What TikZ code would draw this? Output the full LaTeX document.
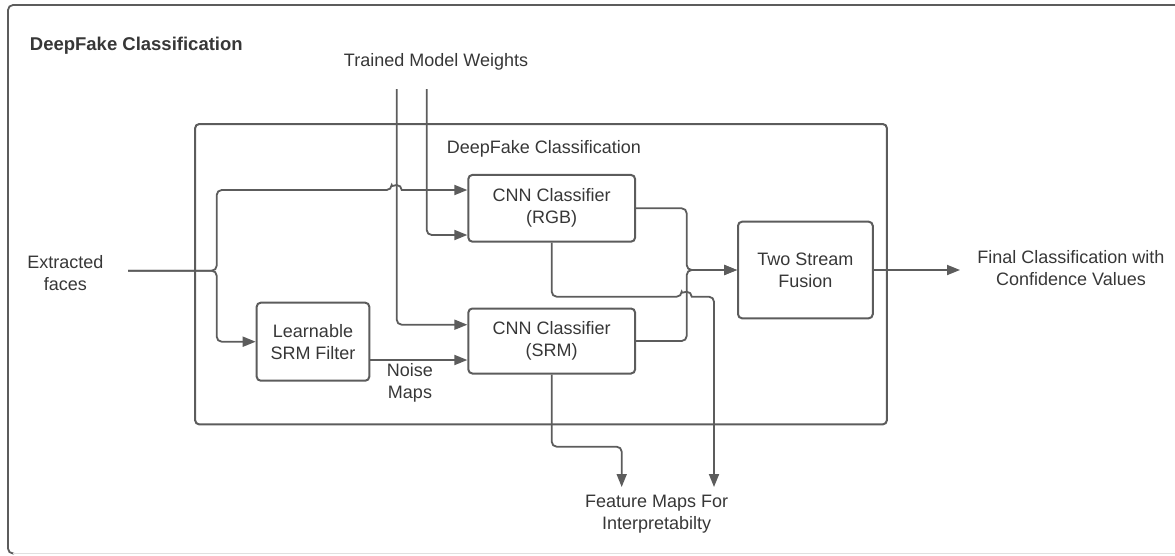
\documentclass[tikz,border=0pt]{standalone}
\usepackage{fontspec}
\setmainfont{Liberation Sans}
\usepackage{xcolor}
\usetikzlibrary{arrows.meta}
\definecolor{linegray}{RGB}{92,92,92}
\definecolor{txtgray}{RGB}{55,55,55}
\newcommand\lblfont{\fontsize{18}{22}\selectfont}

\begin{document}
\begin{tikzpicture}[x=1pt, y=-1pt, line width=1.8pt, color=linegray, text=txtgray, font=\lblfont]
    \tikzstyle{box}=[draw, rounded corners=4pt, line width=2pt, align=center, inner sep=0pt]
    \tikzstyle{txt}=[align=center, inner sep=0pt]
    \tikzstyle{conn}=[-{Triangle[length=13pt,width=10pt]}, rounded corners=5pt]
    \useasboundingbox (0,0) rectangle (1175,555);
    % frames
    \draw[rounded corners=5pt] (1190,5) -- (8,5) -- (8,553.5) -- (14,553.5);
    \draw[black!12, line width=1.5pt] (13,553.5) -- (1175,553.5);
    \node[box, minimum width=691.7pt, minimum height=300.3pt] (inner) at (541,274.2) {};
    % texts
    \node[txt, anchor=west, font=\fontsize{18.5}{22}\selectfont\bfseries] (title) at (29,46) {DeepFake Classification};
    \node[txt] (weights) at (436,62) {Trained Model Weights};
    \node[txt] (innerlabel) at (544,149) {DeepFake Classification};
    \node[txt] (faces) at (65.3,273) {Extracted\\faces};
    \node[txt] (noise) at (410,382.5) {Noise\\Maps};
    \node[txt] (final) at (1071,268) {Final Classification with\\Confidence Values};
    \node[txt] (features) at (656.7,514) {Feature Maps For\\Interpretabilty};
    % blocks
    \node[box, minimum width=166.7pt, minimum height=66.7pt] (rgb) at (551.7,208.3) {CNN Classifier\\(RGB)};
    \node[box, minimum width=166.7pt, minimum height=65pt] (srm) at (551.7,341) {CNN Classifier\\(SRM)};
    \node[box, minimum width=112.6pt, minimum height=78pt] (filter) at (313,341.7) {Learnable\\SRM Filter};
    \node[box, minimum width=134.7pt, minimum height=96.6pt] (fusion) at (805.4,270) {Two Stream\\Fusion};
    \coordinate (facesout) at (128,270.7);
    \coordinate (split) at (216.7,270.7);
    \coordinate (merge) at (686.7,270);
    \coordinate (w1) at (396.7,89);
    \coordinate (w2) at (426.7,89);
    \coordinate (finalin) at (960,270);
    \coordinate (fa) at (621.7,487);
    \coordinate (fb) at (714,487);
    % connectors
    \draw[conn] (facesout) -- (split) |- (391.7,190) [sharp corners] arc (180:360:5) [rounded corners=5pt] -- ([yshift=18.3pt]rgb.west);
    \draw[conn] (facesout) -- (split) |- (filter.west);
    \draw[conn] (w2) |- ([yshift=-26.7pt]rgb.west);
    \draw[conn] (w1) |- ([yshift=16.3pt]srm.west);
    \draw[conn] ([yshift=-18.3pt]filter.east) -- ([yshift=-19pt]srm.west);
    \draw[conn] (rgb.east) -| (merge) -- (fusion.west);
    \draw[conn] (srm.east) -| (merge) -- (fusion.west);
    \draw[conn] (fusion.east) -- (finalin);
    \draw[conn] (srm.south) |- (fa |- 0,446.7) -- (fa);
    \draw[conn] (rgb.south) |- (681.7,296.7) [sharp corners] arc (180:360:5) [rounded corners=5pt] -| (fb);
\end{tikzpicture}
\end{document}
